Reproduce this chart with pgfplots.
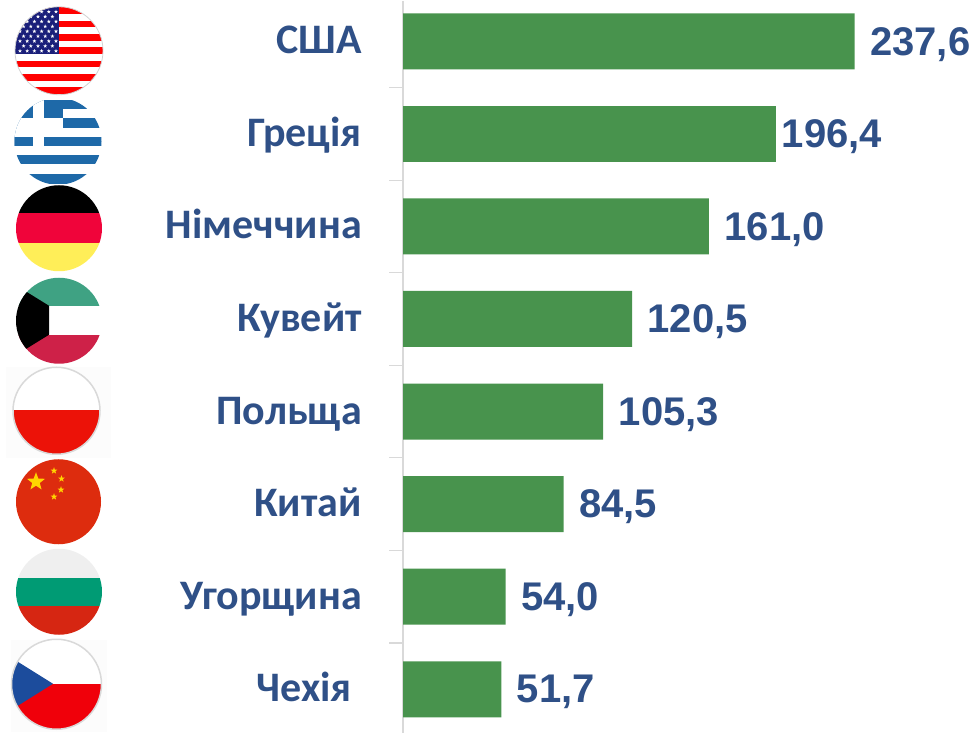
\documentclass[border=0pt]{standalone}
\usepackage{fontspec}
\setmainfont{Carlito}
\newfontfamily\valfont{Liberation Sans}
\usepackage{pgfplots}
\pgfplotsset{compat=1.18}
\usetikzlibrary{shapes.geometric}
\definecolor{bargreen}{HTML}{48934D}
\definecolor{txt}{HTML}{2F5087}
\definecolor{axgray}{HTML}{D9D9D9}
\definecolor{navy}{HTML}{1A1F7A}
\definecolor{gr}{HTML}{1E69A8}
\begin{document}
\begin{tikzpicture}
\begin{scope}[x=1pt,y=-1pt,yshift=732pt]
\path[use as bounding box] (0,0) rectangle (976,732);
% USA
\begin{scope}
\clip (59,50) circle (44);
\fill[white] (15,6) rectangle (103,94);
\foreach \i in {0,2,...,12}{\fill[red] (15,{6.5+\i*6.67}) rectangle (103,{6.5+(\i+1)*6.67});}
\fill[navy] (15,6) rectangle (59,53);
\foreach \r in {0,2,...,8}{\foreach \c in {0,...,5}{
  \node[star,star points=5,star point ratio=2.4,fill=white,inner sep=0pt,minimum size=4pt] at ({20+\c*7.2},{11+\r*4.9}) {};}}
\foreach \r in {1,3,...,7}{\foreach \c in {0,...,4}{
  \node[star,star points=5,star point ratio=2.4,fill=white,inner sep=0pt,minimum size=4pt] at ({23.6+\c*7.2},{11+\r*4.9}) {};}}
\end{scope}
\draw[gray!35,line width=.8pt] (59,50) circle (44);
% Greece
\begin{scope}
\clip (58,140.5) circle (43.5);
\fill[white] (14,99) rectangle (102,183);
\fill[gr] (14,99) rectangle (63,145.2);
\fill[gr] (63,99) rectangle (102,108.3);
\fill[gr] (63,117.5) rectangle (102,126.8);
\fill[gr] (14,136) rectangle (102,145.2);
\fill[gr] (14,154.5) rectangle (102,163.7);
\fill[gr] (14,173) rectangle (102,183);
\fill[white] (33.3,99) rectangle (43.5,145.2);
\fill[white] (14,117.5) rectangle (63,136);
\end{scope}
% Germany
\begin{scope}
\clip (59,227.5) circle (43);
\fill[black] (15,184) rectangle (103,212.5);
\fill[fill={rgb,255:red,240;green,4;blue,58}] (15,212.5) rectangle (103,242.5);
\fill[fill={rgb,255:red,255;green,238;blue,88}] (15,242.5) rectangle (103,271);
\end{scope}
% Kuwait
\begin{scope}
\clip (59,320) circle (43);
\fill[fill={rgb,255:red,63;green,162;blue,131}] (15,276) rectangle (103,305);
\fill[white] (15,305) rectangle (103,334);
\fill[fill={rgb,255:red,206;green,33;blue,72}] (15,334) rectangle (103,364);
\fill[black] (15,284) -- (49,305) -- (49,334) -- (15,355) -- cycle;
\end{scope}
% Poland
\fill[black!1] (6,366) rectangle (111,457);
\begin{scope}
\clip (56.5,410) circle (43.5);
\fill[white] (12,366) rectangle (101,409.5);
\fill[fill={rgb,255:red,236;green,18;blue,8}] (12,409.5) rectangle (101,455);
\end{scope}
\draw[gray!30,line width=1.5pt] (56.5,410) circle (43.5);
% China
\fill[fill={rgb,255:red,221;green,44;blue,14}] (58.5,501) circle (42.5);
\begin{scope}[every node/.style={star,star points=5,star point ratio=2.4,inner sep=0pt,fill={rgb,255:red,255;green,213;blue,0}}]
\node[minimum size=19pt] at (36,481) {};
\node[minimum size=7pt] at (54,470) {};
\node[minimum size=7pt] at (61.5,478) {};
\node[minimum size=7pt] at (61,489) {};
\node[minimum size=7pt] at (54,496) {};
\end{scope}
% Bulgaria
\begin{scope}
\clip (59,591) circle (43);
\fill[fill={rgb,255:red,239;green,239;blue,239}] (15,547) rectangle (103,577);
\fill[fill={rgb,255:red,0;green,155;blue,116}] (15,577) rectangle (103,605);
\fill[fill={rgb,255:red,214;green,38;blue,18}] (15,605) rectangle (103,635);
\end{scope}
% Czechia
\fill[black!1] (11,639) rectangle (107,731);
\begin{scope}
\clip (56.5,683.5) circle (45);
\fill[white] (10,638) rectangle (103,683);
\fill[fill={rgb,255:red,240;green,0;blue,10}] (10,683) rectangle (103,729);
\fill[fill={rgb,255:red,28;green,76;blue,156}] (5,653) -- (53,683) -- (5,713) -- cycle;
\end{scope}
\draw[gray!30,line width=1.5pt] (56.5,683.5) circle (45);
\end{scope}
\begin{axis}[
  at={(403pt,0pt)},anchor=south west,
  scale only axis,width=573pt,height=732pt,
  xmin=0,xmax=301.5,
  ymin=-0.438,ymax=7.470,y dir=reverse,
  axis x line=none,axis y line=left,
  axis line style={axgray,line width=1.5pt,-},
  xbar,bar width=56pt,bar shift=0pt,
  ytick={0,...,7},
  yticklabels={США,Греція,Німеччина,Кувейт,Польща,Китай,Угорщина,Чехія\kern10pt},
  major tick length=0pt,
  minor ytick={0.5,1.5,2.5,3.5,4.5,5.5,6.5},
  minor tick length=14pt,
  tick align=outside,
  minor tick style={axgray,line width=1.2pt},
  yticklabel style={font=\fontsize{42}{50}\selectfont\bfseries,text=txt,anchor=base east,xshift=-41pt,yshift=-12.5pt,inner sep=0pt},
  point meta=x,
  nodes near coords,
  /pgf/number format/.cd,fixed,fixed zerofill,precision=1,use comma,assume math mode=true,
  /pgfplots/.cd,
  nodes near coords style={font=\valfont\fontsize{40}{48}\selectfont\bfseries,text=txt,inner sep=0pt,anchor=west,xshift=15.5pt,yshift=-3pt},
  clip=false,
]
\addplot[draw=none,fill=bargreen] coordinates {(237.6,0) (161.0,2) (120.5,3) (105.3,4) (84.5,5) (54.0,6) (51.7,7)};
\addplot[draw=none,fill=bargreen,nodes near coords style={xshift=-10pt}] coordinates {(196.4,1)};
\end{axis}
\end{tikzpicture}
\end{document}
